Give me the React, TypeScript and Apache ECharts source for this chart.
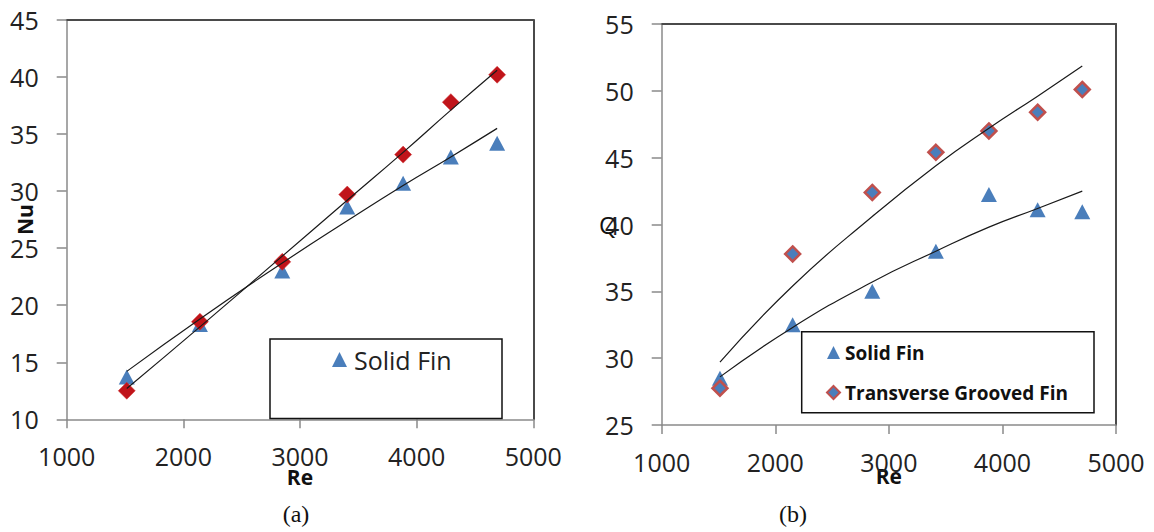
import React, { useEffect, useRef } from "react";
import * as echarts from "echarts";

// ---- Chart (a): Nu vs Re ----
const RE_A = [1515, 2142, 2848, 3405, 3884, 4293, 4690];
const NU_SOLID = [13.7, 18.3, 23.0, 28.6, 30.7, 33.0, 34.2];
const NU_GROOVED = [12.5, 18.55, 23.8, 29.7, 33.2, 37.8, 40.2];
// trend lines
const NU_SOLID_TREND = [14.2, 18.8, 23.7, 27.4, 30.5, 33.0, 35.5];
const NU_GROOVED_TREND = [12.7, 18.1, 24.3, 29.2, 33.4, 37.1, 40.6];

// ---- Chart (b): Q vs Re ----
const RE_B = [1513, 2153, 2854, 3414, 3881, 4310, 4703];
const Q_SOLID = [28.5, 32.5, 35.0, 38.0, 42.25, 41.1, 40.95];
const Q_GROOVED = [27.75, 37.8, 42.4, 45.4, 47.0, 48.4, 50.1];
const Q_SOLID_TREND = [28.6, 32.3, 35.7, 38.0, 39.8, 41.2, 42.5];
const Q_GROOVED_TREND = [29.7, 35.4, 40.6, 44.4, 47.2, 49.6, 51.85];

const SERIES_SOLID = "Solid Fin";
const SERIES_GROOVED = "Transverse Grooved Fin";

const BLUE = "#4a7ebb";
const RED = "#c0141a";
const RED_BORDER = "#c0504d";
const TICK_FONT = "Open Sans";

const zip = (xs: number[], ys: number[]) => xs.map((x, i) => [x, ys[i]]);

export default function App() {
  const ref = useRef<HTMLDivElement>(null);
  useEffect(() => {
    if (!ref.current) return;
    const chart = echarts.init(ref.current, null, { renderer: "svg" });

    const baseX = (gridIndex: number, nameGap: number, labelMargin: number) => ({
      type: "value",
      gridIndex,
      min: 1000,
      max: 5000,
      interval: 1000,
      name: "Re",
      nameLocation: "middle",
      nameGap,
      nameMoveOverlap: false,
      nameTextStyle: { fontFamily: TICK_FONT, fontSize: 21, fontWeight: "bold", color: "#111" },
      axisLine: { show: true, lineStyle: { color: "#8a8a8a", width: 1.5 } },
      axisTick: { show: true, length: 9, lineStyle: { color: "#8a8a8a", width: 1.5 } },
      axisLabel: {
        fontFamily: TICK_FONT,
        fontSize: 25,
        color: "#222",
        margin: labelMargin,
        formatter: (v: number) => String(v),
      },
      splitLine: { show: false },
    });
    const borderX = (gridIndex: number) => ({
      type: "value",
      gridIndex,
      position: "top",
      min: 1000,
      max: 5000,
      axisLine: { show: true, onZero: false, lineStyle: { color: "#4a4a4a", width: 2 } },
      axisTick: { show: false },
      axisLabel: { show: false },
      splitLine: { show: false },
    });
    const baseY = (gridIndex: number, min: number, max: number, name: string, extra: any) => ({
      type: "value",
      gridIndex,
      min,
      max,
      interval: 5,
      name,
      nameLocation: "middle",
      nameMoveOverlap: false,
      axisLine: { show: true, lineStyle: { color: "#8a8a8a", width: 1.5 } },
      axisTick: { show: true, length: 10, lineStyle: { color: "#8a8a8a", width: 1.5 } },
      axisLabel: { fontFamily: TICK_FONT, fontSize: 25, color: "#222", margin: 28 },
      splitLine: { show: false },
      ...extra,
    });
    const borderY = (gridIndex: number, min: number, max: number) => ({
      type: "value",
      gridIndex,
      position: "right",
      min,
      max,
      axisLine: { show: true, onZero: false, lineStyle: { color: "#4a4a4a", width: 2 } },
      axisTick: { show: false },
      axisLabel: { show: false },
      splitLine: { show: false },
    });

    const trend = (name: string, xi: number, yi: number, data: number[][]) => ({
      name,
      type: "line",
      xAxisIndex: xi,
      yAxisIndex: yi,
      data,
      smooth: true,
      showSymbol: false,
      symbol: "none",
      silent: true,
      lineStyle: { color: "#1a1a1a", width: 1.2 },
      z: 3,
    });

    chart.setOption({
      animation: false,
      backgroundColor: "#ffffff",
      grid: [
        { left: 66.7, top: 20, width: 466.6, height: 399.3 },
        { left: 661.7, top: 24, width: 454.3, height: 401 },
      ],
      xAxis: [baseX(0, 47, 24), baseX(1, 40, 24), borderX(0), borderX(1)],
      yAxis: [
        baseY(0, 10, 45, "Nu", {
          nameGap: 31,
          nameTextStyle: { fontFamily: TICK_FONT, fontSize: 21, fontWeight: "bold", color: "#111" },
        }),
        baseY(1, 25, 55, "Q", {
          nameGap: 44,
          nameRotate: 0,
          nameTextStyle: { fontFamily: TICK_FONT, fontSize: 24, color: "#111", align: "right", verticalAlign: "middle" },
        }),
        borderY(0, 10, 45),
        borderY(1, 25, 55),
      ],
      legend: [
        {
          data: [SERIES_SOLID],
          left: 332,
          top: 347,
          padding: 0,
          itemWidth: 15,
          itemHeight: 15,
          itemGap: 8,
          textStyle: { fontFamily: TICK_FONT, fontSize: 25, color: "#222", padding: [0, 0, 0, 2] },
          selectedMode: false,
        },
        {
          data: [SERIES_SOLID, SERIES_GROOVED],
          orient: "vertical",
          left: 826,
          top: 343,
          padding: 0,
          itemWidth: 13,
          itemHeight: 13,
          itemGap: 21,
          textStyle: { fontFamily: TICK_FONT, fontSize: 19, fontWeight: "bold", color: "#111" },
          selectedMode: false,
        },
      ],
      graphic: [
        {
          type: "rect",
          shape: { x: 270, y: 339, width: 232, height: 79.5 },
          style: { fill: "#fff", stroke: "#111", lineWidth: 1.5 },
          z: 4,
        },
        {
          type: "rect",
          shape: { x: 801.7, y: 331.7, width: 292.3, height: 81 },
          style: { fill: "#fff", stroke: "#111", lineWidth: 1.5 },
          z: 4,
        },
        {
          type: "text",
          x: 296,
          y: 514,
          style: { text: "(a)", fontFamily: "Liberation Serif", fontSize: 24, fill: "#111", align: "center", verticalAlign: "middle" },
        },
        {
          type: "text",
          x: 793,
          y: 514,
          style: { text: "(b)", fontFamily: "Liberation Serif", fontSize: 24, fill: "#111", align: "center", verticalAlign: "middle" },
        },
      ],
      series: [
        trend("trend-a-solid", 0, 0, zip(RE_A, NU_SOLID_TREND)),
        trend("trend-a-grooved", 0, 0, zip(RE_A, NU_GROOVED_TREND)),
        {
          name: SERIES_SOLID,
          type: "scatter",
          xAxisIndex: 0,
          yAxisIndex: 0,
          data: zip(RE_A, NU_SOLID),
          symbol: "triangle",
          symbolSize: [16, 15],
          itemStyle: { color: BLUE, opacity: 1 },
          z: 2,
        },
        {
          name: "Transverse Grooved Fin (a)",
          type: "scatter",
          xAxisIndex: 0,
          yAxisIndex: 0,
          data: zip(RE_A, NU_GROOVED),
          symbol: "diamond",
          symbolSize: 17,
          itemStyle: { color: RED, borderColor: "#d03030", borderWidth: 0.5, opacity: 1 },
          z: 2,
        },
        trend("trend-b-solid", 1, 1, zip(RE_B, Q_SOLID_TREND)),
        trend("trend-b-grooved", 1, 1, zip(RE_B, Q_GROOVED_TREND)),
        {
          name: SERIES_SOLID,
          type: "scatter",
          xAxisIndex: 1,
          yAxisIndex: 1,
          data: zip(RE_B, Q_SOLID),
          symbol: "triangle",
          symbolSize: [16, 15],
          itemStyle: { color: BLUE, opacity: 1 },
          z: 2,
        },
        {
          name: SERIES_GROOVED,
          type: "scatter",
          xAxisIndex: 1,
          yAxisIndex: 1,
          data: zip(RE_B, Q_GROOVED),
          symbol: "diamond",
          symbolSize: 15,
          itemStyle: { color: BLUE, borderColor: RED_BORDER, borderWidth: 2.5, opacity: 1 },
          z: 2,
        },
      ],
    });
    return () => chart.dispose();
  }, []);

  return (
    <div
      ref={ref}
      style={{ position: "fixed", left: 0, top: 0, width: 1154, height: 532, background: "#fff" }}
    />
  );
}
